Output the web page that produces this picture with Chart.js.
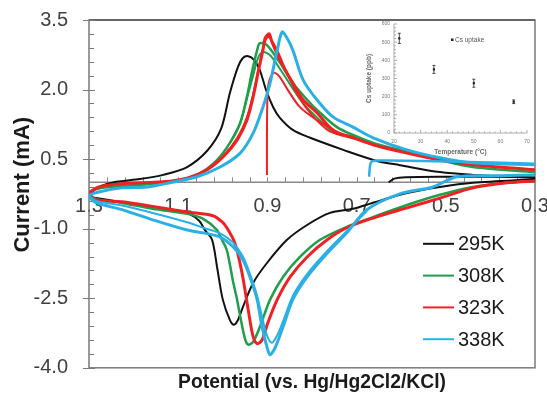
<!DOCTYPE html>
<html>
<head>
<meta charset="utf-8">
<script src="https://cdn.jsdelivr.net/npm/chart.js@4"></script>
<style>
  html, body { margin: 0; padding: 0; background: #fff; }
  #wrap { position: relative; width: 547px; height: 394px; }
  #main { position: absolute; left: 0; top: 0; width: 547px; height: 394px; }
  #inset { position: absolute; left: 355px; top: 14px; width: 185px; height: 150px; }
</style>
</head>
<body>
<div id="wrap">
  <canvas id="main" width="547" height="394"></canvas>
  <canvas id="inset" width="185" height="150"></canvas>
</div>
<script>
// cyclic voltammograms, potential in V (axis runs 1.3 -> 0.3), current in mA
const xTicks = [1.3, 1.1, 0.9, 0.7, 0.5, 0.3]
const yTicks = [-4.0, -2.5, -1.0, 0.5, 2.0, 3.5]

// 295K
const e295 = [0.628, 0.615, 0.59, 0.50, 0.40, 0.30, 0.37, 0.44, 0.513, 0.603, 0.654, 0.730, 0.804, 0.843, 0.872, 0.887, 0.903, 0.917, 0.930, 0.943, 0.955, 0.966, 0.984, 1.004, 1.035, 1.080, 1.134, 1.186, 1.239, 1.278, 1.293, 1.300,
  1.284, 1.255, 1.188, 1.114, 1.076, 1.053, 1.040, 1.024, 1.013, 1.000, 0.984, 0.975, 0.966, 0.955, 0.932, 0.901, 0.856, 0.811, 0.760, 0.708, 0.663, 0.587, 0.513, 0.439, 0.300]
const i295 = [0.00, 0.08, 0.11, 0.12, 0.12, 0.11, 0.13, 0.16, 0.22, 0.37, 0.46, 0.70, 0.96, 1.13, 1.39, 1.62, 1.99, 2.42, 2.64, 2.72, 2.68, 2.49, 1.93, 1.15, 0.68, 0.33, 0.16, 0.07, 0.01, -0.10, -0.21, -0.29,
  -0.34, -0.38, -0.49, -0.59, -0.68, -0.83, -1.03, -1.24, -1.82, -2.53, -2.97, -3.07, -2.97, -2.69, -2.17, -1.74, -1.24, -0.92, -0.66, -0.57, -0.44, -0.23, -0.10, -0.01, 0.07]

// 308K
const e308 = [0.300, 0.439, 0.513, 0.587, 0.663, 0.708, 0.744, 0.782, 0.811, 0.843, 0.872, 0.901, 0.917, 0.923, 0.935, 0.946, 0.961, 0.984, 1.013, 1.051, 1.096, 1.157, 1.226, 1.271, 1.300,
  1.284, 1.230, 1.157, 1.080, 1.044, 1.013, 1.002, 0.991, 0.984, 0.977, 0.968, 0.961, 0.950, 0.943, 0.932, 0.917, 0.894, 0.865, 0.827, 0.782, 0.722, 0.663, 0.587, 0.513, 0.439, 0.363, 0.300]
const i308 = [0.22, 0.33, 0.48, 0.66, 0.85, 1.02, 1.19, 1.50, 1.78, 2.14, 2.58, 2.96, 3.00, 2.85, 2.36, 1.84, 1.28, 0.85, 0.48, 0.20, 0.05, -0.03, -0.08, -0.12, -0.23,
  -0.36, -0.44, -0.57, -0.68, -0.79, -1.03, -1.24, -1.46, -1.78, -2.14, -2.53, -2.89, -3.38, -3.50, -3.44, -3.12, -2.53, -2.04, -1.61, -1.24, -0.96, -0.75, -0.49, -0.27, -0.10, -0.01, 0.03]
const e308b = [0.70, 0.753, 0.789, 0.82, 0.843, 0.872, 0.894, 0.910, 0.921, 0.932, 0.946, 0.961, 0.984]
const i308b = [0.97, 1.10, 1.40, 1.70, 2.02, 2.45, 2.74, 2.81, 2.68, 2.30, 1.80, 1.28, 0.85]

// 323K
const e323 = [0.300, 0.439, 0.513, 0.587, 0.663, 0.708, 0.753, 0.789, 0.820, 0.843, 0.872, 0.890, 0.896, 0.905, 0.910, 0.921, 0.932, 0.946, 0.968, 0.999, 1.035, 1.080, 1.134, 1.226, 1.278, 1.300,
  1.284, 1.226, 1.150, 1.080, 1.022, 1.002, 0.991, 0.973, 0.957, 0.943, 0.932, 0.923, 0.912, 0.899, 0.878, 0.849, 0.811, 0.766, 0.722, 0.663, 0.587, 0.513, 0.439, 0.363, 0.300]
const i323 = [0.27, 0.38, 0.48, 0.63, 0.81, 0.96, 1.13, 1.50, 1.78, 2.14, 2.64, 3.03, 3.20, 3.11, 2.85, 2.36, 1.84, 1.34, 0.91, 0.55, 0.27, 0.09, 0.01, -0.03, -0.10, -0.25,
  -0.38, -0.42, -0.53, -0.64, -0.72, -0.85, -0.98, -1.31, -1.95, -2.75, -3.33, -3.48, -3.40, -3.03, -2.53, -2.04, -1.61, -1.24, -0.98, -0.77, -0.55, -0.34, -0.12, -0.01, 0.03]
const e323b = [0.70, 0.76, 0.80, 0.83, 0.856, 0.878, 0.892, 0.899, 0.906, 0.912, 0.921, 0.932, 0.946, 0.968, 1.0, 1.035]
const i323b = [0.93, 1.10, 1.45, 1.85, 2.35, 2.85, 3.08, 3.13, 3.02, 2.80, 2.40, 1.90, 1.40, 0.95, 0.56, 0.28]
const e323start = [0.901, 0.901, 0.900, 0.897, 0.890, 0.883, 0.872, 0.856, 0.827, 0.789, 0.75]
const i323start = [0.16, 1.00, 1.80, 2.15, 2.32, 2.36, 2.27, 2.02, 1.62, 1.34, 1.12]

// 338K
const e338 = [0.300, 0.439, 0.513, 0.587, 0.663, 0.708, 0.753, 0.789, 0.820, 0.843, 0.856, 0.867, 0.878, 0.894, 0.910, 0.932, 0.961, 1.006, 1.058, 1.118, 1.170, 1.226, 1.278, 1.300,
  1.284, 1.226, 1.157, 1.080, 1.044, 1.006, 0.977, 0.955, 0.939, 0.923, 0.912, 0.901, 0.894, 0.885, 0.878, 0.865, 0.843, 0.811, 0.766, 0.722, 0.677, 0.603, 0.529, 0.475, 0.378, 0.300]
const i338 = [0.38, 0.42, 0.53, 0.70, 0.96, 1.19, 1.41, 1.78, 2.21, 2.85, 3.11, 3.24, 2.85, 2.14, 1.62, 1.06, 0.63, 0.33, 0.12, -0.01, -0.10, -0.12, -0.21, -0.29,
  -0.44, -0.59, -0.81, -1.03, -1.09, -1.18, -1.39, -1.67, -2.04, -2.53, -3.12, -3.55, -3.72, -3.61, -3.46, -3.12, -2.53, -2.04, -1.53, -1.09, -0.59, -0.25, -0.10, 0.12, 0.14, 0.16]
const e338b = [1.300, 1.284, 1.226, 1.157, 1.080, 1.044, 1.006, 0.977, 0.955, 0.939, 0.923, 0.912, 0.901, 0.890, 0.878, 0.865, 0.843, 0.811, 0.766, 0.722, 0.677]
const i338b = [-0.29, -0.40, -0.50, -0.66, -0.86, -0.98, -1.10, -1.30, -1.60, -1.98, -2.45, -2.90, -3.30, -3.46, -3.30, -3.00, -2.45, -1.98, -1.48, -1.05, -0.62]
const e338start = [0.672, 0.670, 0.667, 0.655, 0.63, 0.55, 0.45, 0.30]
const i338start = [0.12, 0.35, 0.44, 0.47, 0.47, 0.46, 0.44, 0.40]

const legendLabels = ['295K', '308K', '323K', '338K']
const legendColors = ['#111111', '#1f9e4c', '#ee2222', '#2ab0e4']

// inset: Cs uptake vs temperature
const insetTemp = [22, 35, 50, 65]
const insetUptake = [521, 350, 274, 172]
const insetErr = [28, 22, 22, 10]
const insetXTicks = [20, 30, 40, 50, 60, 70]
const insetYTicks = [0, 100, 200, 300, 400, 500, 600]

const FONT = "'Liberation Sans', Arial, sans-serif"
const pts = (xs, ys) => xs.map((x, i) => ({ x, y: ys[i] }))

function curve(k, xs, ys, width) {
  return {
    label: legendLabels[k],
    data: pts(xs, ys),
    borderColor: legendColors[k],
    borderWidth: width,
    showLine: true,
    pointRadius: 0,
    tension: 0.3,
    fill: false,
    order: 4 - k,
  }
}

const datasets = [
  curve(0, e295, i295, 2),
  curve(1, e308, i308, 2.5),
  curve(1, e308b, i308b, 2),
  curve(2, e323, i323, 3),
  curve(2, e323b, i323b, 2),
  curve(2, e323start, i323start, 2),
  curve(3, e338, i338, 3),
  curve(3, e338b, i338b, 2),
  curve(3, e338start, i338start, 2.5),
]

// keep the plot box fixed: no extra room for half-labels at the ends
function noEdgePadding(s) {
  s.paddingTop = 0
  s.paddingBottom = 0
  s.paddingLeft = 0
  s.paddingRight = 0
}

const cvAxes = {
  id: 'cvAxes',
  beforeDatasetsDraw(chart) {
    const { ctx, chartArea: a, scales: { x, y } } = chart
    ctx.save()
    ctx.strokeStyle = '#7a7a7a'
    ctx.lineWidth = 1.5
    ctx.strokeRect(a.left, a.top, a.right - a.left, a.bottom - a.top)
    ctx.strokeStyle = '#555'
    ctx.beginPath()
    ctx.moveTo(a.left, a.top)
    ctx.lineTo(a.right, a.top)
    ctx.stroke()
    ctx.strokeStyle = '#7a7a7a'
    ctx.lineWidth = 1
    // y ticks: major every 1.5, minor every 0.3
    for (let k = 0; k <= 25; k++) {
      const py = Math.round(y.getPixelForValue(-4 + k * 0.3)) + 0.5
      const major = k % 5 === 0
      ctx.beginPath()
      ctx.moveTo(a.left - (major ? 6 : 0), py)
      ctx.lineTo(a.left + (major ? 6 : 5), py)
      ctx.stroke()
    }
    // zero line with small upward ticks
    const y0 = y.getPixelForValue(0)
    ctx.strokeStyle = '#888'
    ctx.lineWidth = 1.5
    ctx.beginPath()
    ctx.moveTo(a.left, y0)
    ctx.lineTo(a.right, y0)
    ctx.stroke()
    ctx.lineWidth = 1
    for (let k = 0; k <= 25; k++) {
      const px = Math.round(x.getPixelForValue(0.3 + k * 0.04)) + 0.5
      ctx.beginPath()
      ctx.moveTo(px, y0)
      ctx.lineTo(px, y0 - 5)
      ctx.stroke()
    }
    ctx.restore()
  },
  afterDraw(chart) {
    const { ctx, chartArea: a } = chart
    ctx.save()
    ctx.font = '20px ' + FONT
    ctx.textBaseline = 'middle'
    legendLabels.forEach((lab, k) => {
      const yy = a.bottom - 124 + k * 31.8
      ctx.strokeStyle = legendColors[k]
      ctx.lineWidth = 2
      ctx.beginPath()
      ctx.moveTo(a.right - 112, yy)
      ctx.lineTo(a.right - 81, yy)
      ctx.stroke()
      ctx.fillStyle = '#1a1a1a'
      ctx.fillText(lab, a.right - 77, yy + 1)
    })
    ctx.restore()
  },
}

new Chart(document.getElementById('main'), {
  type: 'scatter',
  data: { datasets },
  options: {
    responsive: false,
    animation: false,
    events: [],
    layout: { padding: { top: 20, right: 12, bottom: 0, left: 0 } },
    plugins: {
      legend: { display: false },
      tooltip: { enabled: false },
      title: {
        display: true,
        position: 'bottom',
        fullSize: false,
        text: 'Potential (vs. Hg/Hg2Cl2/KCl)',
        color: '#1a1a1a',
        font: { family: FONT, size: 19.3, weight: 'bold', lineHeight: 1.15 },
        padding: { top: 4, bottom: 0 },
      },
    },
    scales: {
      x: {
        type: 'linear',
        position: { y: 0 },
        reverse: true,
        min: 0.3,
        max: 1.3,
        afterBuildTicks: s => { s.ticks = xTicks.map(v => ({ value: v })) },
        afterFit: s => { s.height = 0; noEdgePadding(s) },
        grid: { display: false, drawTicks: false },
        border: { display: false },
        ticks: {
          color: '#404040',
          font: { family: FONT, size: 20, lineHeight: 1.2 },
          padding: 12,
          maxRotation: 0,
          autoSkip: false,
          callback: v => v.toFixed(1),
        },
      },
      y: {
        type: 'linear',
        min: -4,
        max: 3.5,
        afterBuildTicks: s => { s.ticks = yTicks.map(v => ({ value: v })) },
        afterFit: s => { s.width = 89; noEdgePadding(s) },
        grid: { display: false, drawTicks: false },
        border: { display: false },
        ticks: {
          color: '#404040',
          font: { family: FONT, size: 20 },
          padding: 21,
          callback: v => v.toFixed(1),
        },
        title: {
          display: true,
          text: '\u00a0\u00a0\u00a0Current (mA)',
          color: '#1a1a1a',
          font: { family: FONT, size: 22, weight: 'bold', lineHeight: 1.2 },
          padding: { top: 10, bottom: 0 },
        },
      },
    },
  },
  plugins: [cvAxes],
})

const insetDecor = {
  id: 'insetDecor',
  beforeDatasetsDraw(chart) {
    const { ctx, chartArea: a, scales: { x, y } } = chart
    ctx.save()
    ctx.strokeStyle = '#999'
    ctx.lineWidth = 0.8
    ctx.beginPath()
    ctx.moveTo(a.left, a.top)
    ctx.lineTo(a.left, a.bottom)
    ctx.lineTo(a.right, a.bottom)
    ctx.stroke()
    for (let v = 0; v <= 600; v += 20) {
      const py = y.getPixelForValue(v)
      ctx.beginPath()
      ctx.moveTo(a.left, py)
      ctx.lineTo(a.left + (v % 100 === 0 ? 3 : 2), py)
      ctx.stroke()
    }
    for (let v = 20; v <= 70; v += 2) {
      const px = x.getPixelForValue(v)
      ctx.beginPath()
      ctx.moveTo(px, a.bottom)
      ctx.lineTo(px, a.bottom - (v % 10 === 0 ? 3 : 1.5))
      ctx.stroke()
    }
    ctx.restore()
  },
  afterDatasetsDraw(chart) {
    const { ctx, scales: { x, y } } = chart
    ctx.save()
    ctx.strokeStyle = '#222'
    ctx.lineWidth = 0.8
    insetTemp.forEach((t, i) => {
      const px = x.getPixelForValue(t)
      const lo = y.getPixelForValue(insetUptake[i] - insetErr[i])
      const hi = y.getPixelForValue(insetUptake[i] + insetErr[i])
      ctx.beginPath()
      ctx.moveTo(px, lo); ctx.lineTo(px, hi)
      ctx.moveTo(px - 1.5, lo); ctx.lineTo(px + 1.5, lo)
      ctx.moveTo(px - 1.5, hi); ctx.lineTo(px + 1.5, hi)
      ctx.stroke()
    })
    // legend
    ctx.fillStyle = '#222'
    ctx.fillRect(96, 24.5, 2.5, 2.5)
    ctx.fillStyle = '#555'
    ctx.font = '6.5px ' + FONT
    ctx.textBaseline = 'middle'
    ctx.fillText('Cs uptake', 100, 26)
    ctx.restore()
  },
}

new Chart(document.getElementById('inset'), {
  type: 'scatter',
  data: {
    datasets: [{
      label: 'Cs uptake',
      data: pts(insetTemp, insetUptake),
      pointStyle: 'rect',
      pointRadius: 1.5,
      borderWidth: 0,
      backgroundColor: '#111',
    }],
  },
  options: {
    responsive: false,
    animation: false,
    events: [],
    layout: { padding: { top: 10, right: 13, bottom: 0, left: 0 } },
    plugins: { legend: { display: false }, tooltip: { enabled: false } },
    scales: {
      x: {
        type: 'linear',
        min: 20,
        max: 70,
        afterBuildTicks: s => { s.ticks = insetXTicks.map(v => ({ value: v })) },
        afterFit: s => { s.height = 31; noEdgePadding(s) },
        grid: { display: false, drawTicks: false },
        border: { display: false },
        ticks: { color: '#777', font: { family: FONT, size: 5 }, padding: 6, maxRotation: 0, autoSkip: false },
        title: {
          display: true,
          text: 'Temperature (°C)',
          color: '#666',
          font: { family: FONT, size: 6.5, weight: 'bold' },
          padding: { top: 0, bottom: 8 },
        },
      },
      y: {
        type: 'linear',
        min: 0,
        max: 600,
        afterBuildTicks: s => { s.ticks = insetYTicks.map(v => ({ value: v })) },
        afterFit: s => { s.width = 39; noEdgePadding(s) },
        grid: { display: false, drawTicks: false },
        border: { display: false },
        ticks: { color: '#777', font: { family: FONT, size: 5 }, padding: 4 },
        title: {
          display: true,
          text: 'Cs uptake (ppb)',
          color: '#666',
          font: { family: FONT, size: 6.5, weight: 'bold' },
          padding: { top: 10, bottom: 0 },
        },
      },
    },
  },
  plugins: [insetDecor],
})
</script>
</body>
</html>
